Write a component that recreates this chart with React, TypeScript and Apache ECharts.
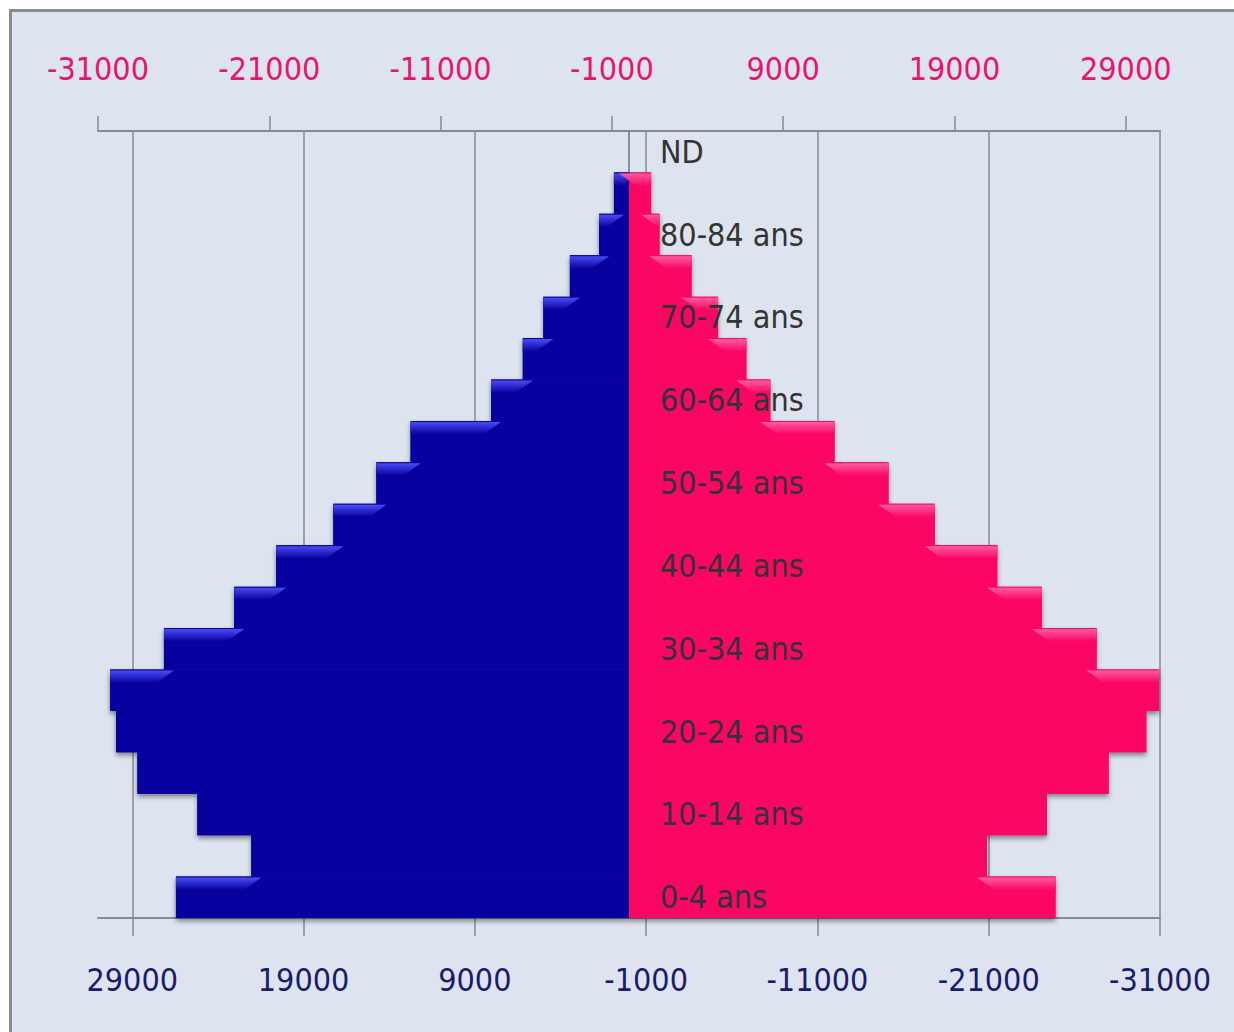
import React, { useEffect, useRef } from "react";
import * as echarts from "echarts";

const categories = [
  "0-4 ans", "5-9 ans", "10-14 ans", "15-19 ans", "20-24 ans", "25-29 ans",
  "30-34 ans", "35-39 ans", "40-44 ans", "45-49 ans", "50-54 ans", "55-59 ans",
  "60-64 ans", "65-69 ans", "70-74 ans", "75-79 ans", "80-84 ans", "85 ans et +", "ND",
];
const hommes = [26450, 22050, 25200, 28700, 29950, 30300, 27150, 23050, 20600, 17260, 14750, 12750, 8050, 6200, 5000, 3450, 1750, 880, 0];
const femmes = [24900, 20900, 24400, 28000, 30200, 30950, 27300, 24100, 21500, 17850, 15150, 12000, 8250, 6850, 5200, 3650, 1780, 1290, 0];
const topTicks = [-31000, -21000, -11000, -1000, 9000, 19000, 29000];
const bottomTicks = [-31000, -21000, -11000, -1000, 9000, 19000, 29000];

const BLUE = "#07009f";
const BLUE_LIGHT = "#4b4bf2";
const PINK = "#fb0663";
const PINK_LIGHT = "#ff5c9f";
const FONT = "'Liberation Sans Narrow', 'DejaVu Sans Condensed', 'Open Sans', sans-serif";
const AXIS_GRAY = "#868a93";

const GRID_LEFT = 98;
const GRID_RIGHT = 74;
const CHART_W = 1234;
const CHART_H = 1032;

function makeHighlight(light: string, base: string) {
  return (params: any, api: any) => {
    const v = api.value(1);
    const above = api.value(2);
    if (!(v > above)) return { type: "group", children: [] };
    const idx = api.value(0);
    const po = api.coord([v, idx]);
    const pi = api.coord([above, idx]);
    const band = api.size([0, 1])[1];
    const yTop = po[1] - band / 2 + 1;
    const h = band * 0.3;
    const dir = po[0] > pi[0] ? 1 : -1;
    const xo = po[0];
    const xi = pi[0] - dir * 10;
    return {
      type: "polygon",
      shape: { points: [[xo, yTop], [xi, yTop], [xi + dir * h * 1.4, yTop + h], [xo, yTop + h]] },
      style: {
        fill: new echarts.graphic.LinearGradient(0, 0, 0, 1, [
          { offset: 0, color: light },
          { offset: 1, color: base },
        ]),
      },
    };
  };
}

const numFmt = (v: number) => String(v);

export default function App() {
  const ref = useRef<HTMLDivElement>(null);
  useEffect(() => {
    if (!ref.current) return;
    const chart = echarts.init(ref.current, undefined, { renderer: "svg" });
    const hData = hommes.map((v, i) => [i, v, i + 1 < hommes.length ? hommes[i + 1] : 0]);
    const fData = femmes.map((v, i) => [i, v, i + 1 < femmes.length ? femmes[i + 1] : 0]);
    const barCommon = { type: "bar", barWidth: "100%", barGap: "-100%", barCategoryGap: "0%", yAxisIndex: 0 };
    const shadow = { shadowColor: "rgba(0,0,0,0.45)", shadowBlur: 5, shadowOffsetY: 3 };
    const centerOffset = -((CHART_W - GRID_LEFT - GRID_RIGHT) / 2);
    chart.setOption({
      animation: false,
      backgroundColor: "transparent",
      grid: { left: GRID_LEFT, right: GRID_RIGHT, top: 131, bottom: 114, containLabel: false },
      xAxis: [
        {
          type: "value", position: "top", min: -31000, max: 31000,
          axisLine: { show: true, onZero: false, lineStyle: { color: AXIS_GRAY, width: 2 } },
          axisTick: { show: true, length: 15, customValues: topTicks, lineStyle: { color: AXIS_GRAY, width: 1.5 } },
          axisLabel: { show: true, customValues: topTicks, formatter: numFmt, color: "#e8156a", fontSize: 32, fontFamily: FONT, margin: 46 },
          splitLine: { show: false },
        },
        {
          type: "value", position: "bottom", inverse: true, min: -31000, max: 31000,
          axisLine: { show: true, onZero: false, lineStyle: { color: AXIS_GRAY, width: 2 } },
          axisTick: { show: true, length: 18, customValues: bottomTicks, lineStyle: { color: AXIS_GRAY, width: 1.5 } },
          axisLabel: { show: true, customValues: bottomTicks, formatter: numFmt, color: "#1b1b6e", fontSize: 32, fontFamily: FONT, margin: 46 },
          splitLine: { show: false },
        },
      ],
      yAxis: [
        {
          type: "category", data: categories, position: "left", z: 10, offset: centerOffset,
          axisLine: { show: false, onZero: false },
          axisTick: { show: false },
          axisLabel: { show: true, inside: true, interval: 1, margin: 31, color: "#333333", fontSize: 32, fontFamily: FONT },
          splitLine: { show: false },
        },
      ],
      series: [
        {
          ...barCommon, name: "Hommes-ombre", xAxisIndex: 1, z: 2, data: hommes,
          itemStyle: { color: BLUE, ...shadow }, silent: true,
          markLine: {
            silent: true, symbol: "none", z: 1, label: { show: false },
            lineStyle: { color: AXIS_GRAY, width: 1.5, type: "solid" },
            data: bottomTicks.map((v) => ({ xAxis: v })),
          },
        },
        {
          ...barCommon, name: "Femmes-ombre", xAxisIndex: 0, z: 2, data: femmes,
          itemStyle: { color: PINK, ...shadow }, silent: true,
          markLine: {
            silent: true, symbol: "none", z: 1, label: { show: false },
            lineStyle: { color: "#6e727a", width: 1.5, type: "solid" },
            data: [{ xAxis: 0 }],
          },
        },
        { ...barCommon, name: "Hommes", xAxisIndex: 1, z: 3, data: hommes, itemStyle: { color: BLUE } },
        { ...barCommon, name: "Femmes", xAxisIndex: 0, z: 3, data: femmes, itemStyle: { color: PINK } },
        {
          type: "custom", name: "Hommes-relief", xAxisIndex: 1, yAxisIndex: 0, z: 4, silent: true,
          encode: { x: 1, y: 0 }, data: hData, renderItem: makeHighlight(BLUE_LIGHT, BLUE),
        },
        {
          type: "custom", name: "Femmes-relief", xAxisIndex: 0, yAxisIndex: 0, z: 4, silent: true,
          encode: { x: 1, y: 0 }, data: fData, renderItem: makeHighlight(PINK_LIGHT, PINK),
        },
      ],
    });
    return () => chart.dispose();
  }, []);

  return (
    <div style={{ position: "absolute", left: 0, top: 0, width: CHART_W, height: CHART_H, background: "#ffffff", overflow: "hidden" }}>
      <div
        style={{
          position: "absolute", left: 9, top: 9, width: 1240, height: 1040,
          background: "#dde4ef", borderTop: "3px solid #8c8c8c", borderLeft: "3px solid #8c8c8c",
        }}
      />
      <div ref={ref} style={{ position: "absolute", left: 0, top: 0, width: CHART_W, height: CHART_H }} />
    </div>
  );
}
